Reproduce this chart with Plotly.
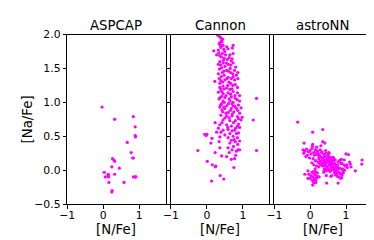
import plotly.graph_objects as go

panel_titles = ["ASPCAP", "Cannon", "astroNN"]
x_label = "[N/Fe]"
y_label = "[Na/Fe]"
x_tick_vals = [-1, 0, 1]
x_tick_text = ["\u22121", "0", "1"]
y_tick_vals = [-0.5, 0.0, 0.5, 1.0, 1.5, 2.0]
y_tick_text = ["\u22120.5", "0.0", "0.5", "1.0", "1.5", "2.0"]

aspcap_n_fe = [-0.03, 0.32, 0.84, 0.89, 0.89, 0.90, 0.67, 0.78, 0.82, 0.84, 0.26, 0.30, 0.32,
               0.24, 0.45, 0.03, 0.14, 0.14, 0.06, 0.15, 0.32, 0.84, 0.89, 0.91, 0.16, 0.58,
               0.25, 0.24]
aspcap_na_fe = [0.93, 0.75, 0.79, 0.64, 0.51, 0.49, 0.41, 0.26, 0.18, 0.18, 0.17, 0.15, 0.13,
                0.05, 0.03, -0.03, -0.06, -0.08, -0.10, -0.10, -0.06, -0.10, -0.10, -0.10,
                -0.18, -0.18, -0.30, -0.32]

cannon_n_fe = [0.30, 0.39, 0.41, 0.36, 0.44, 0.34, 0.45, 0.39, 0.55, 0.73, 0.71, 0.19, 0.32,
               0.50, 0.59, 0.43, 0.27, 0.36, 0.64, 0.73, 0.48, 0.57, 0.68, 0.36, 0.45, 0.32,
               0.59, 0.73, 0.50, 0.41, 0.65, 0.77, 0.55, 0.43, 0.66, 0.86, 0.32, 0.48, 0.59,
               0.73, 0.22, 0.39, 0.50, 0.77, 0.86, 0.36, 0.45, 0.66, 0.79, 0.55, 0.39, 0.64,
               0.73, 0.32, 0.45, 0.59, 0.85, 0.91, 0.41, 0.50, 0.68, 0.79, 0.34, 0.45, 0.64,
               0.73, 0.91, 1.38, 0.41, 0.55, 0.73, 0.88, 0.36, 0.50, 0.68, 0.82, 0.95, 0.44,
               0.59, 0.75, 0.91, 0.39, 0.55, 0.70, 0.85, 0.98, 1.29, 0.45, 0.64, 0.79, 0.95,
               0.23, 0.36, 0.55, 0.68, 0.85, 0.32, 0.45, 0.59, 0.77, 0.91, -0.06, 0.00, -0.02,
               0.27, 0.39, 0.64, 0.82, 0.14, 0.36, 0.59, 0.73, 0.85, 0.11, 0.34, 0.64, 0.79,
               0.91, -0.25, 0.36, 0.59, 0.70, 0.82, 0.91, 1.38, 0.23, 0.41, 0.55, 0.68, 0.77,
               0.01, 0.15, 0.23, 0.25, 0.75, 0.37, 0.47, 0.13,
               0.35, 0.42, 0.38, 0.47, 0.33, 0.52, 0.40, 0.62, 0.46, 0.70, 0.38, 0.54, 0.66,
               0.80, 0.35, 0.60, 0.72, 0.47, 0.40, 0.56, 0.68, 0.82, 0.34, 0.44, 0.61, 0.72,
               0.85, 0.48, 0.36, 0.70, 0.58, 0.42, 0.66, 0.78, 0.53, 0.37, 0.62, 0.84, 0.48,
               0.70, 0.38, 0.60, 0.78, 0.47, 0.65, 0.86, 0.42, 0.53, 0.71, 0.88, 0.50, 0.62,
               0.74, 0.42, 0.88, 0.58, 0.70, 0.80, 0.88, 0.50, 0.76, 0.68, 0.86, 0.74, 0.62,
               0.80, 0.86]
cannon_na_fe = [1.99, 1.95, 1.91, 1.88, 1.93, 1.86, 1.84, 1.81, 1.82, 1.84, 1.80, 1.76, 1.77,
                1.75, 1.79, 1.72, 1.70, 1.69, 1.70, 1.72, 1.65, 1.63, 1.61, 1.60, 1.58, 1.56,
                1.56, 1.58, 1.53, 1.51, 1.50, 1.47, 1.47, 1.44, 1.44, 1.44, 1.42, 1.40, 1.37,
                1.38, 1.31, 1.32, 1.33, 1.33, 1.35, 1.28, 1.24, 1.28, 1.26, 1.21, 1.19, 1.19,
                1.16, 1.15, 1.13, 1.14, 1.14, 1.10, 1.09, 1.07, 1.08, 1.06, 1.05, 1.02, 1.02,
                1.00, 1.02, 1.06, 0.98, 0.95, 0.95, 0.96, 0.93, 0.91, 0.91, 0.91, 0.92, 0.86,
                0.85, 0.86, 0.84, 0.81, 0.80, 0.80, 0.79, 0.78, 0.74, 0.74, 0.73, 0.73, 0.74,
                0.70, 0.67, 0.67, 0.65, 0.65, 0.62, 0.59, 0.60, 0.59, 0.63, 0.53, 0.53, 0.51,
                0.56, 0.56, 0.54, 0.54, 0.47, 0.49, 0.48, 0.50, 0.48, 0.40, 0.42, 0.40, 0.42,
                0.43, 0.29, 0.33, 0.33, 0.30, 0.28, 0.30, 0.29, 0.26, 0.21, 0.20, 0.16, 0.17,
                0.13, 0.08, 0.05, 0.06, 0.04, -0.08, -0.13, -0.16,
                1.97, 1.89, 1.84, 1.78, 1.73, 1.70, 1.67, 1.66, 1.62, 1.64, 1.55, 1.58, 1.55,
                1.52, 1.49, 1.46, 1.42, 1.46, 1.38, 1.35, 1.35, 1.40, 1.35, 1.30, 1.30, 1.25,
                1.22, 1.20, 1.22, 1.20, 1.25, 1.16, 1.12, 1.10, 1.10, 1.07, 1.05, 1.04, 1.00,
                0.98, 0.96, 0.98, 0.94, 0.93, 0.88, 0.88, 0.89, 0.84, 0.83, 0.76, 0.77, 0.77,
                0.70, 0.70, 0.68, 0.63, 0.58, 0.62, 0.55, 0.52, 0.45, 0.44, 0.38, 0.35, 0.26,
                0.22, 0.30]

astronn_n_fe = [-0.35, 0.07, 0.35, -0.17, 0.07, 0.35, 0.41, 1.65, 1.45, 1.44, 1.26, 1.12, 1.14,
                1.00, 1.07, 0.87, -0.06, -0.15, 0.10, 0.46, 0.78, -0.06, 0.12, 0.16, 0.85, 0.89,
                0.71, 0.75,
                -0.20, -0.15, -0.10, -0.05, 0.00, 0.05, 0.10, 0.15, 0.20, -0.18, -0.08, 0.02,
                0.12, 0.22, 0.28, 0.06, 0.18, 0.30, -0.12, -0.02, 0.08, 0.25, 0.33,
                0.20, 0.26, 0.32, 0.38, 0.44, 0.50, 0.24, 0.30, 0.36, 0.42, 0.48, 0.54, 0.60,
                0.28, 0.34, 0.40, 0.46, 0.52, 0.58, 0.64, 0.32, 0.38, 0.44, 0.50, 0.56, 0.62,
                0.68, 0.36, 0.42, 0.48, 0.54, 0.60, 0.66, 0.72, 0.40, 0.46, 0.52, 0.58, 0.64,
                0.70, 0.76, 0.44, 0.50, 0.56, 0.62, 0.68, 0.74, 0.80, 0.35, 0.45, 0.55, 0.40,
                0.50, 0.60, 0.30, 0.47, 0.57, 0.43, 0.53, 0.63, 0.39, 0.49, 0.59,
                0.15, 0.22, 0.10, 0.18, 0.26, 0.05, 0.14, 0.24, 0.34, 0.12, 0.20, 0.30,
                0.70, 0.78, 0.86, 0.94, 0.66, 0.74, 0.82, 0.90, 0.98, 0.70, 0.80, 0.88, 0.96,
                1.04, 0.76, 0.84, 0.92, 1.10, 0.82, 0.90, 0.62, 0.72,
                0.05, 0.10, 0.15, 0.20, 0.02, 0.08, 0.14, 0.20, 0.00, 0.06, 0.12, 0.18, 0.25,
                0.10, 0.16, -0.04, 0.09, 0.07, 0.60, 0.68, 0.76, 0.84, 0.92, 0.80, 0.88,
                0.55, 0.65, 0.58, 0.45, 0.38, 0.52, 0.62, 0.95, 1.02]
astronn_na_fe = [0.71, 0.56, 0.60, 0.40, 0.38, 0.42, 0.40, 0.27, 0.15, 0.09, -0.01, 0.09, 0.05,
                 0.24, 0.23, 0.16, -0.01, -0.06, -0.19, -0.19, -0.19, -0.12, -0.13, -0.14,
                 -0.12, -0.07, -0.07, -0.05,
                 0.30, 0.28, 0.31, 0.27, 0.29, 0.32, 0.26, 0.30, 0.28, 0.25, 0.22, 0.24,
                 0.22, 0.25, 0.30, 0.35, 0.34, 0.36, 0.20, 0.18, 0.17, 0.20, 0.27,
                 0.24, 0.22, 0.26, 0.23, 0.25, 0.21, 0.17, 0.19, 0.18, 0.20, 0.17, 0.19, 0.16,
                 0.13, 0.15, 0.14, 0.16, 0.13, 0.12, 0.14, 0.09, 0.11, 0.10, 0.12, 0.09, 0.08,
                 0.10, 0.06, 0.07, 0.05, 0.08, 0.06, 0.04, 0.07, 0.02, 0.03, 0.01, 0.04, 0.02,
                 0.03, 0.05, -0.01, 0.00, -0.02, 0.01, -0.01, 0.00, 0.02, 0.10, 0.12, 0.08,
                 0.20, 0.22, 0.11, 0.08, 0.05, 0.15, 0.29, 0.25, 0.19, 0.00, 0.14, 0.07,
                 0.14, 0.12, 0.08, 0.06, 0.10, 0.11, 0.02, 0.05, 0.07, 0.26, 0.23, 0.13,
                 0.15, 0.12, 0.10, 0.08, 0.18, 0.05, 0.03, 0.01, 0.06, -0.02, -0.03, 0.10,
                 0.00, 0.04, 0.08, -0.05, -0.04, 0.12, 0.14, 0.02, 0.09, -0.04,
                 -0.03, -0.05, -0.02, -0.04, -0.08, -0.10, -0.07, -0.09, -0.12, -0.15, -0.13,
                 -0.11, -0.10, -0.17, -0.18, -0.06, -0.02, -0.22, -0.08, -0.04, -0.09, -0.05,
                 -0.02, -0.10, -0.11, -0.01, 0.02, -0.09, -0.08, -0.03, 0.26, 0.19, 0.15, 0.08]

datasets = [(aspcap_n_fe, aspcap_na_fe), (cannon_n_fe, cannon_na_fe), (astronn_n_fe, astronn_na_fe)]

W, H = 374, 240
x_domains_px = [(52.3, 153.0), (158.3, 259.0), (264.0, 364.3)]
y_top_px, y_bot_px = 21.7, 201.0
ydom = [1 - y_bot_px / H, 1 - y_top_px / H]

fig = go.Figure()
font_family = "DejaVu Sans"
marker_color = "#ff00ff"
tick_size = 10.8
label_size = 13.3

for i, (xs, ys) in enumerate(datasets):
    idx = "" if i == 0 else str(i + 1)
    fig.add_trace(go.Scatter(
        x=xs, y=ys, mode="markers",
        marker=dict(color=marker_color, size=3.2, line=dict(width=0)),
        xaxis="x" + idx, yaxis="y" + idx, showlegend=False, hoverinfo="skip"))
    x0, x1 = x_domains_px[i]
    xa = dict(domain=[x0 / W, x1 / W], range=[-1, 1.74], anchor="y" + idx,
              showline=True, mirror=True, linecolor="black", linewidth=1,
              showgrid=False, zeroline=False, ticks="outside", ticklen=3.5,
              tickwidth=1, tickcolor="black", ticklabelstandoff=-3,
              tickvals=x_tick_vals, ticktext=x_tick_text,
              tickfont=dict(family=font_family, size=tick_size, color="black"))
    ya = dict(domain=ydom, range=[-0.5, 2.0], anchor="x" + idx,
              showline=True, mirror=True, linecolor="black", linewidth=1,
              showgrid=False, zeroline=False, ticks="outside", ticklen=3.5,
              tickwidth=1, tickcolor="black",
              tickvals=y_tick_vals, ticktext=y_tick_text if i == 0 else [""] * len(y_tick_vals),
              showticklabels=(i == 0),
              tickfont=dict(family=font_family, size=tick_size, color="black"))
    fig.update_layout({"xaxis" + idx: xa, "yaxis" + idx: ya})
    cx = (x0 + x1) / 2 / W
    fig.add_annotation(text=panel_titles[i], x=cx, y=1 - 12 / H, xref="paper", yref="paper",
                       showarrow=False, font=dict(family=font_family, size=label_size, color="black"),
                       xanchor="center", yanchor="middle")
    fig.add_annotation(text=x_label, x=cx, y=1 - 228 / H, xref="paper", yref="paper",
                       showarrow=False, font=dict(family=font_family, size=label_size, color="black"),
                       xanchor="center", yanchor="middle")

fig.add_annotation(text=y_label, x=12.7 / W, y=1 - 111 / H, xref="paper", yref="paper",
                   showarrow=False, textangle=-90,
                   font=dict(family=font_family, size=label_size, color="black"),
                   xanchor="center", yanchor="middle")

fig.update_layout(width=W, height=H, margin=dict(l=0, r=0, t=0, b=0),
                  paper_bgcolor="white", plot_bgcolor="white")
fig.write_html("out.html")
